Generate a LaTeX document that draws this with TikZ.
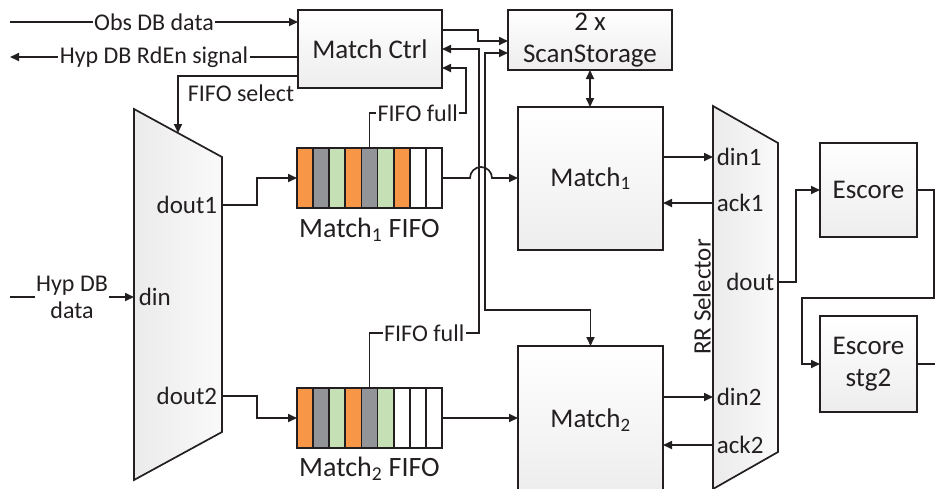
\documentclass[tikz,border=0pt]{standalone}
\usepackage{fontspec}
\setmainfont{Carlito}
\usetikzlibrary{arrows.meta,calc}
\definecolor{ln}{HTML}{231F20}
\definecolor{fo}{HTML}{F79646}
\definecolor{fg}{HTML}{929497}
\definecolor{fl}{HTML}{C5E0B4}
\begin{document}
\begin{tikzpicture}[x=1pt,y=-1pt,line width=1.7pt,color=ln,
  arr/.style={-{Triangle[length=9pt,width=8pt]}},
  darr/.style={{Triangle[length=9pt,width=8pt]}-{Triangle[length=9pt,width=8pt]}},
  box/.style={draw,outer sep=0pt,inner sep=0pt,top color=white,bottom color=gray!14,align=center,font=\fontsize{27}{32}\selectfont},
  lbl/.style={font=\fontsize{24}{27}\selectfont,inner sep=1.5pt,fill=white},
  port/.style={font=\fontsize{25}{29}\selectfont,inner sep=1pt},
  cell/.style={draw,minimum width=16.11pt,minimum height=60pt,inner sep=0pt,outer sep=0pt},
  fifobox/.style={draw,minimum width=145pt,minimum height=60pt,inner sep=0pt,outer sep=0pt},
  fifolbl/.style={font=\fontsize{28}{32}\selectfont,inner sep=0pt},
  trap/.style={draw,left color=gray!16,right color=gray!4}]
\useasboundingbox (0,0) rectangle (935,488);
\clip (0,0) rectangle (935,488);
% helper rows
\coordinate (y30) at (0,30);
\coordinate (y41) at (0,41);
\coordinate (y49) at (0,49);
\coordinate (y53) at (0,53);
\coordinate (y68) at (0,68);
\coordinate (y76) at (0,76);
% boxes
\node[box,minimum width=144pt,minimum height=78pt] (mc) at (370,49) {Match Ctrl};
\node[box,minimum width=164pt,minimum height=60pt] (ss) at (590,40) {2 x\\ScanStorage};
\node[box,minimum width=145pt,minimum height=143pt] (m1) at (590.5,178.5) {Match\textsubscript{1}};
\node[box,minimum width=145pt,minimum height=148pt] (m2) at (590.5,420) {Match\textsubscript{2}};
\node[box,minimum width=97pt,minimum height=94pt] (es) at (868.5,190) {Escore};
\node[box,minimum width=97pt,minimum height=96pt] (es2) at (868.5,364) {Escore\\stg2};
% demux
\coordinate (dmTL) at (134,109);
\coordinate (dmTR) at (222,157);
\coordinate (dmBR) at (222,432);
\coordinate (dmBL) at (134,480);
\draw[trap] (dmTL) -- (dmTR) -- (dmBR) -- (dmBL) -- cycle;
\coordinate (dmIn) at (134,297);
\coordinate (dmO1) at (222,205);
\coordinate (dmO2) at (222,396);
\coordinate (dmSel) at ($(dmTL)!0.5!(dmTR)$);
\node[port,anchor=east] (ldout1) at (219,205) {dout1};
\node[port,anchor=west] (ldin) at (137,297) {din};
\node[port,anchor=east] (ldout2) at (219,396) {dout2};
% RR selector
\coordinate (rrTL) at (713,106);
\coordinate (rrTR) at (778,143);
\coordinate (rrBR) at (778,452);
\coordinate (rrBL) at (713,489);
\draw[trap] (rrTL) -- (rrTR) -- (rrBR) -- (rrBL) -- cycle;
\coordinate (rrI1) at (713,157);
\coordinate (rrA1) at (713,203);
\coordinate (rrO) at (778,282);
\coordinate (rrI2) at (713,397);
\coordinate (rrA2) at (713,445);
\node[port,anchor=west] (ldin1) at (715,157) {din1};
\node[port,anchor=west] (lack1) at (715,203) {ack1};
\node[port,anchor=east] (ldout) at (776,282) {dout};
\node[port,anchor=west] (ldin2) at (715,397) {din2};
\node[port,anchor=west] (lack2) at (715,445) {ack2};
\node[port,rotate=90] (lrr) at (702,297) {RR Selector};
% FIFOs
\foreach \c [count=\i] in {fo,fg,fl,fo,fg,fl,fo,white,white}
  \node[cell,fill=\c] (fa\i) at ({297+145/9*(\i-0.5)},178) {};
\node[fifobox] (f1) at (369.5,178) {};
\foreach \c [count=\i] in {fo,fg,fl,fo,fg,fl,white,white,white}
  \node[cell,fill=\c] (fb\i) at ({297+145/9*(\i-0.5)},418) {};
\node[fifobox] (f2) at (369.5,418) {};
\node[fifolbl] (f1l) at (369.5,230) {Match\textsubscript{1} FIFO};
\node[fifolbl] (f2l) at (369.5,469) {Match\textsubscript{2} FIFO};
% external signals
\coordinate (obsS) at (10,22);
\draw[arr] (obsS) -- node[lbl]{Obs DB data} (obsS -| mc.west);
\coordinate (hypE) at (10,57);
\draw[arr] (mc.west |- hypE) -- node[lbl]{Hyp DB RdEn signal} (hypE);
\draw[arr] (mc.west |- y76) -- node[lbl,fill=none,anchor=north,yshift=-6pt,xshift=3pt]{FIFO select} (dmSel |- y76) -- (dmSel);
\coordinate (hdS) at (10,297);
\draw[arr] (hdS) -- node[lbl,align=center]{Hyp DB\\data} (dmIn);
% demux to fifos
\draw[arr] (dmO1) -- ++(35,0) |- (f1.west);
\draw[arr] (dmO2) -- ++(35,0) |- (f2.west);
% fifo full lines
\draw[arr] (fa5.north) |- node[lbl,pos=0.75]{FIFO full} (466,113) |- (mc.east |- y68);
\draw[arr] (fb5.north) |- node[lbl,pos=0.75]{FIFO full} (479,333) |- (mc.east |- y49);
% match ctrl to scanstorage
\draw[arr] (mc.east |- y30) -- (478,30) |- (ss.west |- y41);
% scanstorage to match2
\draw[darr] (ss.west |- y53) -| (485,310) -| (m2.north);
% scanstorage to match1
\draw[darr] (ss.south) -- (ss.south |- m1.north);
% fifo1 to match1 with hop
\draw[arr] (f1.east) -- (470,178) arc[start angle=180,end angle=0,radius=11pt] -- (f1.east -| m1.west);
% fifo2 to match2
\draw[arr] (f2.east) -- (f2.east -| m2.west);
% match to RR
\draw[arr] (m1.east |- rrI1) -- (rrI1);
\draw[arr] (rrA1) -- (m1.east |- rrA1);
\draw[arr] (m2.east |- rrI2) -- (rrI2);
\draw[arr] (rrA2) -- (m2.east |- rrA2);
% RR to escore
\draw[arr] (rrO) -- ++(18,0) |- (es.west);
\draw[arr] (es.east) -| (934,298) -- (802,298) |- (es2.west);
\coordinate (esOut) at (940,364);
\draw (es2.east) -- (esOut);
\end{tikzpicture}
\end{document}
